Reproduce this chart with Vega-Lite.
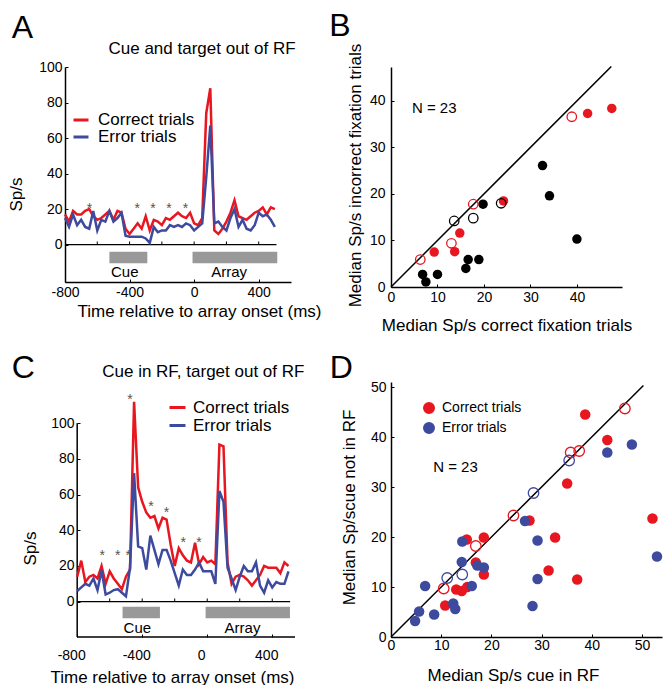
{
  "$schema": "https://vega.github.io/schema/vega-lite/v6.json",
  "padding": {"left": 7, "top": 9, "right": 0, "bottom": 0},
  "background": "white",
  "config": {
    "view": {"stroke": null},
    "font": "Liberation Sans",
    "axis": {"labelFont": "Liberation Sans", "labelFontSize": 14, "labelColor": "black", "titleFont": "Liberation Sans", "titleFontSize": 17, "titleFontWeight": "normal", "titleColor": "black", "domainColor": "black", "domainWidth": 1.5, "tickColor": "black", "tickSize": -3, "tickWidth": 1, "grid": false, "labelFlush": false, "labelOverlap": false, "labelPadding": 6},
    "legend": {"labelFont": "Liberation Sans", "labelColor": "black", "padding": 0}
  },
  "datasets": {
    "aLines": [
      {"t":-800,"rate":17,"trial":"Correct trials"},{"t":-775,"rate":13,"trial":"Correct trials"},{"t":-750,"rate":19,"trial":"Correct trials"},{"t":-725,"rate":17,"trial":"Correct trials"},{"t":-700,"rate":17,"trial":"Correct trials"},{"t":-675,"rate":19,"trial":"Correct trials"},{"t":-650,"rate":20,"trial":"Correct trials"},{"t":-625,"rate":16,"trial":"Correct trials"},{"t":-600,"rate":14,"trial":"Correct trials"},{"t":-575,"rate":15,"trial":"Correct trials"},{"t":-550,"rate":17,"trial":"Correct trials"},{"t":-525,"rate":19,"trial":"Correct trials"},{"t":-500,"rate":14,"trial":"Correct trials"},{"t":-475,"rate":19,"trial":"Correct trials"},{"t":-450,"rate":18,"trial":"Correct trials"},{"t":-425,"rate":9,"trial":"Correct trials"},{"t":-400,"rate":6,"trial":"Correct trials"},{"t":-375,"rate":9,"trial":"Correct trials"},{"t":-350,"rate":12,"trial":"Correct trials"},{"t":-325,"rate":9,"trial":"Correct trials"},{"t":-300,"rate":16,"trial":"Correct trials"},{"t":-275,"rate":8,"trial":"Correct trials"},{"t":-250,"rate":14,"trial":"Correct trials"},{"t":-225,"rate":13,"trial":"Correct trials"},{"t":-200,"rate":11,"trial":"Correct trials"},{"t":-175,"rate":15,"trial":"Correct trials"},{"t":-150,"rate":14,"trial":"Correct trials"},{"t":-125,"rate":16,"trial":"Correct trials"},{"t":-100,"rate":18,"trial":"Correct trials"},{"t":-75,"rate":16,"trial":"Correct trials"},{"t":-50,"rate":15,"trial":"Correct trials"},{"t":-25,"rate":18,"trial":"Correct trials"},{"t":0,"rate":12,"trial":"Correct trials"},{"t":25,"rate":11,"trial":"Correct trials"},{"t":50,"rate":15,"trial":"Correct trials"},{"t":75,"rate":74,"trial":"Correct trials"},{"t":100,"rate":88,"trial":"Correct trials"},{"t":125,"rate":8,"trial":"Correct trials"},{"t":150,"rate":6,"trial":"Correct trials"},{"t":175,"rate":9,"trial":"Correct trials"},{"t":200,"rate":13,"trial":"Correct trials"},{"t":225,"rate":18,"trial":"Correct trials"},{"t":250,"rate":25,"trial":"Correct trials"},{"t":275,"rate":16,"trial":"Correct trials"},{"t":300,"rate":15,"trial":"Correct trials"},{"t":325,"rate":14,"trial":"Correct trials"},{"t":350,"rate":16,"trial":"Correct trials"},{"t":375,"rate":18,"trial":"Correct trials"},{"t":400,"rate":19,"trial":"Correct trials"},{"t":425,"rate":21,"trial":"Correct trials"},{"t":450,"rate":17,"trial":"Correct trials"},{"t":475,"rate":21,"trial":"Correct trials"},{"t":500,"rate":20,"trial":"Correct trials"},
      {"t":-800,"rate":15,"trial":"Error trials"},{"t":-775,"rate":10,"trial":"Error trials"},{"t":-750,"rate":17,"trial":"Error trials"},{"t":-725,"rate":11,"trial":"Error trials"},{"t":-700,"rate":14,"trial":"Error trials"},{"t":-675,"rate":10,"trial":"Error trials"},{"t":-650,"rate":9,"trial":"Error trials"},{"t":-625,"rate":19,"trial":"Error trials"},{"t":-600,"rate":8,"trial":"Error trials"},{"t":-575,"rate":14,"trial":"Error trials"},{"t":-550,"rate":13,"trial":"Error trials"},{"t":-525,"rate":19,"trial":"Error trials"},{"t":-500,"rate":13,"trial":"Error trials"},{"t":-475,"rate":15,"trial":"Error trials"},{"t":-450,"rate":18,"trial":"Error trials"},{"t":-425,"rate":5,"trial":"Error trials"},{"t":-400,"rate":4.5,"trial":"Error trials"},{"t":-375,"rate":4.5,"trial":"Error trials"},{"t":-350,"rate":4.5,"trial":"Error trials"},{"t":-325,"rate":4.5,"trial":"Error trials"},{"t":-300,"rate":3.5,"trial":"Error trials"},{"t":-275,"rate":1,"trial":"Error trials"},{"t":-250,"rate":10,"trial":"Error trials"},{"t":-225,"rate":7,"trial":"Error trials"},{"t":-200,"rate":8,"trial":"Error trials"},{"t":-175,"rate":8,"trial":"Error trials"},{"t":-150,"rate":11,"trial":"Error trials"},{"t":-125,"rate":10,"trial":"Error trials"},{"t":-100,"rate":11,"trial":"Error trials"},{"t":-75,"rate":10,"trial":"Error trials"},{"t":-50,"rate":12,"trial":"Error trials"},{"t":-25,"rate":11,"trial":"Error trials"},{"t":0,"rate":8,"trial":"Error trials"},{"t":25,"rate":10,"trial":"Error trials"},{"t":50,"rate":12,"trial":"Error trials"},{"t":75,"rate":38,"trial":"Error trials"},{"t":100,"rate":67,"trial":"Error trials"},{"t":125,"rate":12,"trial":"Error trials"},{"t":150,"rate":13,"trial":"Error trials"},{"t":175,"rate":10,"trial":"Error trials"},{"t":200,"rate":8,"trial":"Error trials"},{"t":225,"rate":15,"trial":"Error trials"},{"t":250,"rate":20,"trial":"Error trials"},{"t":275,"rate":10,"trial":"Error trials"},{"t":300,"rate":14,"trial":"Error trials"},{"t":325,"rate":9,"trial":"Error trials"},{"t":350,"rate":8,"trial":"Error trials"},{"t":375,"rate":11,"trial":"Error trials"},{"t":400,"rate":18,"trial":"Error trials"},{"t":425,"rate":16,"trial":"Error trials"},{"t":450,"rate":17,"trial":"Error trials"},{"t":475,"rate":14,"trial":"Error trials"},{"t":500,"rate":10,"trial":"Error trials"}
    ],
    "cLines": [
      {"t":-800,"rate":14,"trial":"Correct trials"},{"t":-775,"rate":23,"trial":"Correct trials"},{"t":-750,"rate":11,"trial":"Correct trials"},{"t":-725,"rate":14,"trial":"Correct trials"},{"t":-700,"rate":15,"trial":"Correct trials"},{"t":-675,"rate":13,"trial":"Correct trials"},{"t":-650,"rate":20,"trial":"Correct trials"},{"t":-625,"rate":10,"trial":"Correct trials"},{"t":-600,"rate":17,"trial":"Correct trials"},{"t":-575,"rate":13,"trial":"Correct trials"},{"t":-550,"rate":10,"trial":"Correct trials"},{"t":-525,"rate":7,"trial":"Correct trials"},{"t":-500,"rate":14,"trial":"Correct trials"},{"t":-475,"rate":18,"trial":"Correct trials"},{"t":-450,"rate":112,"trial":"Correct trials"},{"t":-425,"rate":64,"trial":"Correct trials"},{"t":-400,"rate":56,"trial":"Correct trials"},{"t":-375,"rate":50,"trial":"Correct trials"},{"t":-350,"rate":47,"trial":"Correct trials"},{"t":-325,"rate":48,"trial":"Correct trials"},{"t":-300,"rate":41,"trial":"Correct trials"},{"t":-275,"rate":47,"trial":"Correct trials"},{"t":-250,"rate":46,"trial":"Correct trials"},{"t":-225,"rate":32,"trial":"Correct trials"},{"t":-200,"rate":20,"trial":"Correct trials"},{"t":-175,"rate":30,"trial":"Correct trials"},{"t":-150,"rate":26,"trial":"Correct trials"},{"t":-125,"rate":23,"trial":"Correct trials"},{"t":-100,"rate":22,"trial":"Correct trials"},{"t":-75,"rate":33,"trial":"Correct trials"},{"t":-50,"rate":21,"trial":"Correct trials"},{"t":-25,"rate":25,"trial":"Correct trials"},{"t":0,"rate":22,"trial":"Correct trials"},{"t":25,"rate":23,"trial":"Correct trials"},{"t":50,"rate":21,"trial":"Correct trials"},{"t":75,"rate":88,"trial":"Correct trials"},{"t":100,"rate":87,"trial":"Correct trials"},{"t":125,"rate":22,"trial":"Correct trials"},{"t":150,"rate":10,"trial":"Correct trials"},{"t":175,"rate":14,"trial":"Correct trials"},{"t":200,"rate":15,"trial":"Correct trials"},{"t":225,"rate":14,"trial":"Correct trials"},{"t":250,"rate":12,"trial":"Correct trials"},{"t":275,"rate":9,"trial":"Correct trials"},{"t":300,"rate":12,"trial":"Correct trials"},{"t":325,"rate":15,"trial":"Correct trials"},{"t":350,"rate":20,"trial":"Correct trials"},{"t":375,"rate":19,"trial":"Correct trials"},{"t":400,"rate":19,"trial":"Correct trials"},{"t":425,"rate":19,"trial":"Correct trials"},{"t":450,"rate":16,"trial":"Correct trials"},{"t":475,"rate":22,"trial":"Correct trials"},{"t":500,"rate":20,"trial":"Correct trials"},
      {"t":-800,"rate":6,"trial":"Error trials"},{"t":-775,"rate":8,"trial":"Error trials"},{"t":-750,"rate":10,"trial":"Error trials"},{"t":-725,"rate":9,"trial":"Error trials"},{"t":-700,"rate":13,"trial":"Error trials"},{"t":-675,"rate":6.5,"trial":"Error trials"},{"t":-650,"rate":17.5,"trial":"Error trials"},{"t":-625,"rate":4,"trial":"Error trials"},{"t":-600,"rate":5,"trial":"Error trials"},{"t":-575,"rate":6.5,"trial":"Error trials"},{"t":-550,"rate":7,"trial":"Error trials"},{"t":-525,"rate":5,"trial":"Error trials"},{"t":-500,"rate":3,"trial":"Error trials"},{"t":-475,"rate":19,"trial":"Error trials"},{"t":-450,"rate":72,"trial":"Error trials"},{"t":-425,"rate":31,"trial":"Error trials"},{"t":-400,"rate":30,"trial":"Error trials"},{"t":-375,"rate":18,"trial":"Error trials"},{"t":-350,"rate":37,"trial":"Error trials"},{"t":-325,"rate":29,"trial":"Error trials"},{"t":-300,"rate":21,"trial":"Error trials"},{"t":-275,"rate":29,"trial":"Error trials"},{"t":-250,"rate":29,"trial":"Error trials"},{"t":-225,"rate":23,"trial":"Error trials"},{"t":-200,"rate":16,"trial":"Error trials"},{"t":-175,"rate":9,"trial":"Error trials"},{"t":-150,"rate":18,"trial":"Error trials"},{"t":-125,"rate":15,"trial":"Error trials"},{"t":-100,"rate":15,"trial":"Error trials"},{"t":-75,"rate":18,"trial":"Error trials"},{"t":-50,"rate":22,"trial":"Error trials"},{"t":-25,"rate":17,"trial":"Error trials"},{"t":0,"rate":17,"trial":"Error trials"},{"t":25,"rate":17,"trial":"Error trials"},{"t":50,"rate":10,"trial":"Error trials"},{"t":75,"rate":62,"trial":"Error trials"},{"t":100,"rate":56,"trial":"Error trials"},{"t":125,"rate":19,"trial":"Error trials"},{"t":150,"rate":13,"trial":"Error trials"},{"t":175,"rate":6.5,"trial":"Error trials"},{"t":200,"rate":14,"trial":"Error trials"},{"t":225,"rate":20,"trial":"Error trials"},{"t":250,"rate":17,"trial":"Error trials"},{"t":275,"rate":17,"trial":"Error trials"},{"t":300,"rate":22,"trial":"Error trials"},{"t":325,"rate":9,"trial":"Error trials"},{"t":350,"rate":5,"trial":"Error trials"},{"t":375,"rate":12,"trial":"Error trials"},{"t":400,"rate":8,"trial":"Error trials"},{"t":425,"rate":11,"trial":"Error trials"},{"t":450,"rate":10,"trial":"Error trials"},{"t":475,"rate":10,"trial":"Error trials"},{"t":500,"rate":17,"trial":"Error trials"}
    ],
    "aStars": [{"t":-648,"rate":22.3},{"t":-352,"rate":22.3},{"t":-255,"rate":22.3},{"t":-156,"rate":22.3},{"t":-53,"rate":22.3}],
    "cStars": [{"t":-646,"rate":28},{"t":-551,"rate":28},{"t":-486,"rate":28},{"t":-476,"rate":115.3},{"t":-346,"rate":55.5},{"t":-250,"rate":51.8},{"t":-148,"rate":35.1},{"t":-51,"rate":35.1}],
    "aEpochs": [{"t":-525,"t2":-290,"epoch":"Cue"},{"t":-10,"t2":515,"epoch":"Array"}],
    "cEpochs": [{"t":-521,"t2":-291,"epoch":"Cue"},{"t":-10,"t2":509,"epoch":"Array"}],
    "epochLabels": [{"t":-430,"epoch":"Cue"},{"t":217,"epoch":"Array"}],
    "ticks200": [{"t":-600},{"t":-400},{"t":-200},{"t":0},{"t":200},{"t":400}],
    "bPoints": [
      {"x":9.3,"y":7.5,"cls":"Class 1","open":false},{"x":13.7,"y":7.6,"cls":"Class 1","open":false},{"x":14.8,"y":11.6,"cls":"Class 1","open":false},{"x":24.2,"y":18.5,"cls":"Class 1","open":false},{"x":42.3,"y":37.3,"cls":"Class 1","open":false},{"x":47.5,"y":38.4,"cls":"Class 1","open":false},
      {"x":6.3,"y":5.9,"cls":"Class 1","open":true},{"x":13.0,"y":9.4,"cls":"Class 1","open":true},{"x":17.7,"y":17.8,"cls":"Class 1","open":true},{"x":38.9,"y":36.6,"cls":"Class 1","open":true},
      {"x":6.8,"y":2.7,"cls":"Class 2","open":false},{"x":7.5,"y":1.1,"cls":"Class 2","open":false},{"x":10.0,"y":2.7,"cls":"Class 2","open":false},{"x":16.1,"y":4.0,"cls":"Class 2","open":false},{"x":16.6,"y":5.9,"cls":"Class 2","open":false},{"x":18.9,"y":5.9,"cls":"Class 2","open":false},{"x":19.8,"y":17.8,"cls":"Class 2","open":false},{"x":32.6,"y":26.1,"cls":"Class 2","open":false},{"x":34.1,"y":19.6,"cls":"Class 2","open":false},{"x":40.0,"y":10.3,"cls":"Class 2","open":false},
      {"x":13.6,"y":14.2,"cls":"Class 2","open":true},{"x":17.7,"y":14.8,"cls":"Class 2","open":true},{"x":23.7,"y":18.0,"cls":"Class 2","open":true}
    ],
    "dPoints": [
      {"x":38.7,"y":44.5,"trial":"Correct trials","open":false},{"x":43.1,"y":39.4,"trial":"Correct trials","open":false},{"x":35.1,"y":30.7,"trial":"Correct trials","open":false},{"x":27.6,"y":23.3,"trial":"Correct trials","open":false},{"x":32.7,"y":19.9,"trial":"Correct trials","open":false},{"x":31.4,"y":13.3,"trial":"Correct trials","open":false},{"x":37.1,"y":11.5,"trial":"Correct trials","open":false},{"x":52.1,"y":23.7,"trial":"Correct trials","open":false},{"x":18.5,"y":19.9,"trial":"Correct trials","open":false},{"x":15.1,"y":19.5,"trial":"Correct trials","open":false},{"x":18.5,"y":12.5,"trial":"Correct trials","open":false},{"x":16.9,"y":14.9,"trial":"Correct trials","open":false},{"x":13.0,"y":9.5,"trial":"Correct trials","open":false},{"x":14.1,"y":9.2,"trial":"Correct trials","open":false},{"x":15.2,"y":10.0,"trial":"Correct trials","open":false},{"x":10.8,"y":6.3,"trial":"Correct trials","open":false},
      {"x":46.6,"y":45.7,"trial":"Correct trials","open":true},{"x":37.5,"y":37.2,"trial":"Correct trials","open":true},{"x":35.8,"y":36.9,"trial":"Correct trials","open":true},{"x":24.4,"y":24.3,"trial":"Correct trials","open":true},{"x":16.9,"y":18.2,"trial":"Correct trials","open":true},{"x":10.5,"y":9.7,"trial":"Correct trials","open":true},
      {"x":48.0,"y":38.5,"trial":"Error trials","open":false},{"x":43.1,"y":36.9,"trial":"Error trials","open":false},{"x":26.7,"y":23.2,"trial":"Error trials","open":false},{"x":29.2,"y":19.3,"trial":"Error trials","open":false},{"x":29.2,"y":11.6,"trial":"Error trials","open":false},{"x":28.2,"y":6.2,"trial":"Error trials","open":false},{"x":53.0,"y":16.1,"trial":"Error trials","open":false},{"x":14.2,"y":19.1,"trial":"Error trials","open":false},{"x":14.1,"y":15.0,"trial":"Error trials","open":false},{"x":17.2,"y":14.3,"trial":"Error trials","open":false},{"x":18.5,"y":13.9,"trial":"Error trials","open":false},{"x":16.1,"y":10.2,"trial":"Error trials","open":false},{"x":6.8,"y":10.2,"trial":"Error trials","open":false},{"x":12.4,"y":6.7,"trial":"Error trials","open":false},{"x":12.8,"y":5.6,"trial":"Error trials","open":false},{"x":8.6,"y":4.5,"trial":"Error trials","open":false},{"x":5.6,"y":5.1,"trial":"Error trials","open":false},{"x":4.8,"y":3.2,"trial":"Error trials","open":false},
      {"x":35.5,"y":35.3,"trial":"Error trials","open":true},{"x":28.4,"y":28.8,"trial":"Error trials","open":true},{"x":14.2,"y":12.5,"trial":"Error trials","open":true},{"x":11.2,"y":11.8,"trial":"Error trials","open":true}
    ],
    "identityB": [{"x":0,"y":0,"x2":47.4,"y2":47.4}],
    "identityD": [{"x":0,"y":0,"x2":50.3,"y2":50.3}]
  },
  "columns": 2,
  "bounds": "flush",
  "spacing": {"row": 95, "column": 96},
  "resolve": {"scale": {"color": "independent", "x": "independent", "y": "independent"}, "legend": {"color": "independent"}},
  "concat": [
    {
      "width": 226, "height": 215,
      "layer": [
        {"data": {"values": [{"t": -800, "t2": 510}]}, "mark": {"type": "rule", "color": "black", "strokeWidth": 1.3},
         "encoding": {"x": {"field": "t", "type": "quantitative"}, "x2": {"field": "t2"}, "y": {"datum": 0}}},
        {"data": {"name": "ticks200"}, "mark": {"type": "rule", "color": "black", "strokeWidth": 1},
         "encoding": {"x": {"field": "t", "type": "quantitative"}, "y": {"datum": 0}, "y2": {"datum": 1.8}}},
        {"data": {"name": "aEpochs"}, "mark": {"type": "rect", "color": "#999999"},
         "encoding": {"x": {"field": "t", "type": "quantitative"}, "x2": {"field": "t2"}, "y": {"datum": -4}, "y2": {"datum": -10.5}}},
        {"data": {"name": "epochLabels"}, "mark": {"type": "text", "fontSize": 15, "baseline": "alphabetic", "color": "black"},
         "encoding": {"x": {"field": "t", "type": "quantitative"}, "y": {"datum": -18.2}, "text": {"field": "epoch"}}},
        {"data": {"name": "aStars"}, "mark": {"type": "text", "text": "*", "fontSize": 14, "baseline": "alphabetic", "dy": 8, "color": "#555555"},
         "encoding": {"x": {"field": "t", "type": "quantitative"}, "y": {"field": "rate", "type": "quantitative"}}},
        {"data": {"name": "aLines"}, "mark": {"type": "line", "strokeWidth": 2.5},
         "encoding": {
           "x": {"field": "t", "type": "quantitative", "title": "Time relative to array onset (ms)",
                 "scale": {"domain": [-800, 600], "nice": false, "zero": false},
                 "axis": {"values": [-800,-600,-400,-200,0,200,400], "labelExpr": "datum.value % 400 == 0 ? '' + datum.value : ''", "titleX": 134, "titlePadding": 4}},
           "y": {"field": "rate", "type": "quantitative", "title": "Sp/s",
                 "scale": {"domain": [-21, 100], "nice": false, "zero": false},
                 "axis": {"values": [0,10,20,30,40,50,60,70,80,90,100], "labelExpr": "datum.value % 20 == 0 ? datum.label : ''", "titleX": -40, "titleY": 127}},
           "color": {"field": "trial", "type": "nominal",
             "scale": {"domain": ["Correct trials", "Error trials"], "range": ["#e8161f", "#3d4a9e"]},
             "legend": {"title": null, "orient": "none", "legendX": 7, "legendY": 44, "symbolType": "stroke", "symbolStrokeWidth": 3, "symbolSize": 225, "labelFontSize": 17, "labelOffset": 8, "rowPadding": 0}}}},
        {"data": {"values": [{}]}, "mark": {"type": "text", "text": "Cue and target out of RF", "fontSize": 17, "align": "center", "baseline": "alphabetic", "color": "black"},
         "encoding": {"x": {"datum": 49}, "y": {"datum": 107.3}}},
        {"data": {"values": [{}]}, "mark": {"type": "text", "text": "A", "fontSize": 32, "align": "left", "baseline": "alphabetic", "color": "black"},
         "encoding": {"x": {"datum": -1130}, "y": {"datum": 116.3}}}
      ]
    },
    {
      "width": 231, "height": 220,
      "layer": [
        {"data": {"name": "identityB"}, "mark": {"type": "rule", "color": "black", "strokeWidth": 1.5},
         "encoding": {"x": {"field": "x", "type": "quantitative"}, "y": {"field": "y", "type": "quantitative"}, "x2": {"field": "x2"}, "y2": {"field": "y2"}}},
        {"data": {"name": "bPoints"}, "transform": [{"filter": "!datum.open"}], "mark": {"type": "circle", "size": 90, "opacity": 1},
         "encoding": {
           "x": {"field": "x", "type": "quantitative", "title": "Median Sp/s correct fixation trials",
                 "scale": {"domain": [0, 49.7], "nice": false, "zero": false},
                 "axis": {"values": [0,5,10,15,20,25,30,35,40,45], "labelExpr": "datum.value % 10 == 0 ? datum.label : ''", "titlePadding": 13}},
           "y": {"field": "y", "type": "quantitative", "title": "Median Sp/s incorrect fixation trials",
                 "scale": {"domain": [0, 47.3], "nice": false, "zero": false},
                 "axis": {"values": [0,5,10,15,20,25,30,35,40,45], "labelExpr": "datum.value % 10 == 0 ? datum.label : ''", "labelPadding": 9, "titlePadding": 5, "titleY": 108}},
           "color": {"field": "cls", "type": "nominal", "scale": {"domain": ["Class 1", "Class 2"], "range": ["#e8161f", "#000000"]}, "legend": null}}},
        {"data": {"name": "bPoints"}, "transform": [{"filter": "datum.open"}], "mark": {"type": "point", "shape": "circle", "size": 90, "filled": false, "strokeWidth": 1.3, "opacity": 1},
         "encoding": {"x": {"field": "x", "type": "quantitative"}, "y": {"field": "y", "type": "quantitative"},
           "color": {"field": "cls", "type": "nominal", "scale": {"domain": ["Class 1", "Class 2"], "range": ["#e8161f", "#000000"]}, "legend": null}}},
        {"data": {"values": [{}]}, "mark": {"type": "text", "text": "N = 23", "fontSize": 15, "align": "left", "baseline": "alphabetic", "color": "black"},
         "encoding": {"x": {"datum": 4.5}, "y": {"datum": 37.4}}},
        {"data": {"values": [{}]}, "mark": {"type": "text", "text": "B", "fontSize": 32, "align": "left", "baseline": "alphabetic", "color": "black"},
         "encoding": {"x": {"datum": -13.3}, "y": {"datum": 54}}}
      ]
    },
    {
      "width": 230, "height": 255,
      "layer": [
        {"data": {"values": [{}]}, "mark": {"type": "rule", "color": "black", "strokeWidth": 1.5},
         "encoding": {"x": {"datum": -800}, "y": {"datum": -19.8}, "y2": {"datum": 100}}},
        {"data": {"values": [{}]}, "mark": {"type": "rule", "color": "black", "strokeWidth": 1.5},
         "encoding": {"x": {"datum": -800}, "x2": {"datum": 540}, "y": {"datum": -19.8}}},
        {"data": {"values": [{"t": -800, "t2": 510}]}, "mark": {"type": "rule", "color": "black", "strokeWidth": 1.3},
         "encoding": {"x": {"field": "t", "type": "quantitative"}, "x2": {"field": "t2"}, "y": {"datum": 0}}},
        {"data": {"name": "ticks200"}, "mark": {"type": "rule", "color": "black", "strokeWidth": 1},
         "encoding": {"x": {"field": "t", "type": "quantitative"}, "y": {"datum": 0}, "y2": {"datum": 1.8}}},
        {"data": {"name": "cEpochs"}, "mark": {"type": "rect", "color": "#999999"},
         "encoding": {"x": {"field": "t", "type": "quantitative"}, "x2": {"field": "t2"}, "y": {"datum": -2.8}, "y2": {"datum": -9.3}}},
        {"data": {"name": "epochLabels"}, "mark": {"type": "text", "fontSize": 15, "baseline": "alphabetic", "color": "black"},
         "encoding": {"x": {"field": "t", "type": "quantitative"}, "y": {"datum": -17.5}, "text": {"field": "epoch"}}},
        {"data": {"name": "cStars"}, "mark": {"type": "text", "text": "*", "fontSize": 14, "baseline": "alphabetic", "dy": 8, "color": "#555555"},
         "encoding": {"x": {"field": "t", "type": "quantitative"}, "y": {"field": "rate", "type": "quantitative"}}},
        {"data": {"name": "cLines"}, "mark": {"type": "line", "strokeWidth": 2.5},
         "encoding": {
           "x": {"field": "t", "type": "quantitative", "title": "Time relative to array onset (ms)",
                 "scale": {"domain": [-875, 540], "nice": false, "zero": false},
                 "axis": {"values": [-800,-600,-400,-200,0,200,400], "labelExpr": "datum.value % 400 == 0 ? '' + datum.value : ''", "domain": false, "labelOffset": -6, "labelPadding": 14, "titleX": 107, "titlePadding": 7}},
           "y": {"field": "rate", "type": "quantitative", "title": "Sp/s",
                 "scale": {"domain": [-19.8, 123.1], "nice": false, "zero": false},
                 "axis": {"values": [0,10,20,30,40,50,60,70,80,90,100], "labelExpr": "datum.value % 20 == 0 ? datum.label : ''", "domain": false, "offset": -12, "titleX": -38, "titleY": 166}},
           "color": {"field": "trial", "type": "nominal",
             "scale": {"domain": ["Correct trials", "Error trials"], "range": ["#e8161f", "#3d4a9e"]},
             "legend": {"title": null, "orient": "none", "legendX": 103, "legendY": 16, "symbolType": "stroke", "symbolStrokeWidth": 3, "symbolSize": 256, "labelFontSize": 17, "labelOffset": 6, "rowPadding": 0}}}},
        {"data": {"values": [{}]}, "mark": {"type": "text", "text": "Cue in RF, target out of RF", "fontSize": 17, "align": "center", "baseline": "alphabetic", "color": "black"},
         "encoding": {"x": {"datum": -24}, "y": {"datum": 126.1}}},
        {"data": {"values": [{}]}, "mark": {"type": "text", "text": "C", "fontSize": 32, "align": "left", "baseline": "alphabetic", "color": "black"},
         "encoding": {"x": {"datum": -1202}, "y": {"datum": 125.4}}}
      ]
    },
    {
      "width": 271, "height": 255,
      "layer": [
        {"data": {"name": "identityD"}, "mark": {"type": "rule", "color": "black", "strokeWidth": 1.5},
         "encoding": {"x": {"field": "x", "type": "quantitative"}, "y": {"field": "y", "type": "quantitative"}, "x2": {"field": "x2"}, "y2": {"field": "y2"}}},
        {"data": {"name": "dPoints"}, "transform": [{"filter": "!datum.open"}], "mark": {"type": "circle", "size": 110, "opacity": 1},
         "encoding": {
           "x": {"field": "x", "type": "quantitative", "title": "Median Sp/s cue in RF",
                 "scale": {"domain": [0, 54], "nice": false, "zero": false},
                 "axis": {"values": [0,5,10,15,20,25,30,35,40,45,50], "labelExpr": "datum.value % 10 == 0 ? datum.label : ''", "labelPadding": 4, "titleX": 122, "titlePadding": 15}},
           "y": {"field": "y", "type": "quantitative", "title": "Median Sp/scue not in RF",
                 "scale": {"domain": [0, 51], "nice": false, "zero": false},
                 "axis": {"values": [0,5,10,15,20,25,30,35,40,45,50], "labelExpr": "datum.value % 10 == 0 ? datum.label : ''", "labelPadding": 8, "titleX": -33, "titleY": 125}},
           "color": {"field": "trial", "type": "nominal", "scale": {"domain": ["Correct trials", "Error trials"], "range": ["#e8161f", "#3d4a9e"]},
             "legend": {"title": null, "orient": "none", "legendX": 31, "legendY": 19, "symbolType": "circle", "symbolSize": 110, "labelFontSize": 14, "labelOffset": 6, "rowPadding": 2, "symbolOpacity": 1}}}},
        {"data": {"name": "dPoints"}, "transform": [{"filter": "datum.open"}], "mark": {"type": "point", "shape": "circle", "size": 110, "filled": false, "strokeWidth": 1.3, "opacity": 1},
         "encoding": {"x": {"field": "x", "type": "quantitative"}, "y": {"field": "y", "type": "quantitative"},
           "color": {"field": "trial", "type": "nominal", "scale": {"domain": ["Correct trials", "Error trials"], "range": ["#e8161f", "#3d4a9e"]}}}},
        {"data": {"values": [{}]}, "mark": {"type": "text", "text": "N = 23", "fontSize": 15, "align": "left", "baseline": "alphabetic", "color": "black"},
         "encoding": {"x": {"datum": 8.4}, "y": {"datum": 33.1}}},
        {"data": {"values": [{}]}, "mark": {"type": "text", "text": "D", "fontSize": 32, "align": "left", "baseline": "alphabetic", "color": "black"},
         "encoding": {"x": {"datum": -12.2}, "y": {"datum": 51.8}}}
      ]
    }
  ]
}
